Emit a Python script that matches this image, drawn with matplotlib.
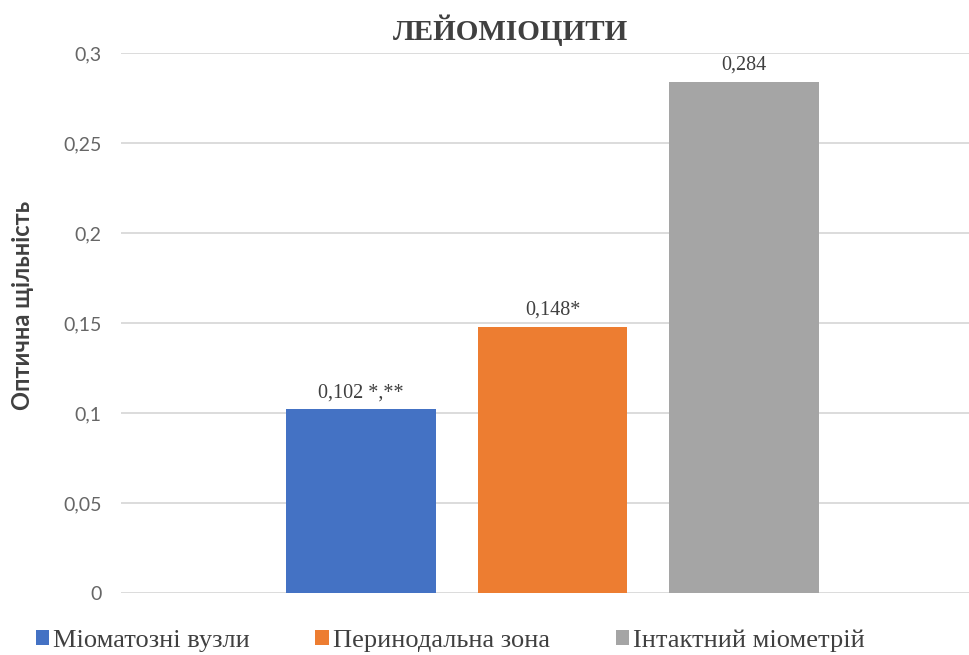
import matplotlib
matplotlib.use("Agg")
import matplotlib.pyplot as plt
from matplotlib.patches import Patch

series = ["Міоматозні вузли", "Перинодальна зона", "Інтактний міометрій"]
values = [0.102, 0.148, 0.284]
value_labels = ["0,102 *,**", "0,148*", "0,284"]
colors = ["#4472C4", "#ED7D31", "#A5A5A5"]
yticks = [0, 0.05, 0.1, 0.15, 0.2, 0.25, 0.3]
ytick_labels = ["0", "0,05", "0,1", "0,15", "0,2", "0,25", "0,3"]
title = "ЛЕЙОМІОЦИТИ"
ylabel = "Оптична щільність"

W, H = 970, 655
fig = plt.figure(figsize=(W / 100, H / 100), dpi=100)
ax = fig.add_axes([121 / W, 1 - 593 / H, 1 - 121 / W, (593 - 53) / H])

xpos = [0, 1, 2]
ax.bar(xpos, values, width=0.783, color=colors, zorder=3)
ax.set_xlim(-1.253, 3.180)
ax.set_ylim(0, 0.3)

for x, v, lab in zip(xpos, values, value_labels):
    ax.annotate(lab, (x, v), xytext=(0, 5), textcoords="offset points",
                ha="center", va="bottom", fontsize=14.5,
                family="Liberation Serif", color="#404040")

ax.set_yticks(yticks)
ax.set_yticklabels(ytick_labels, family="Lato", fontsize=14, color="#666666")
ax.tick_params(axis="y", length=0, pad=14)
ax.set_xticks([])
ax.grid(axis="y", color="#D9D9D9", linewidth=1.3, zorder=0)
for s in ax.spines.values():
    s.set_visible(False)

fig.text(511 / W, 1 - 30 / H, title, ha="center", va="center",
         fontsize=21, fontweight="bold", family="Liberation Serif", color="#404040")
fig.text(23 / W, 1 - 305 / H, ylabel, rotation=90, ha="center", va="center",
         fontsize=17, fontweight="bold", family="Lato", color="#404040")

handles = [Patch(facecolor=c, edgecolor="none") for c in colors]
fig.legend(handles, series, loc="center", bbox_to_anchor=(450 / W, 1 - 641 / H),
           ncol=3, frameon=False, prop={"family": "Liberation Serif", "size": 19},
           handlelength=0.5, handleheight=0.5, handletextpad=0.15, columnspacing=2.5,
           labelcolor="#404040")

fig.savefig("out.png", dpi=100)
